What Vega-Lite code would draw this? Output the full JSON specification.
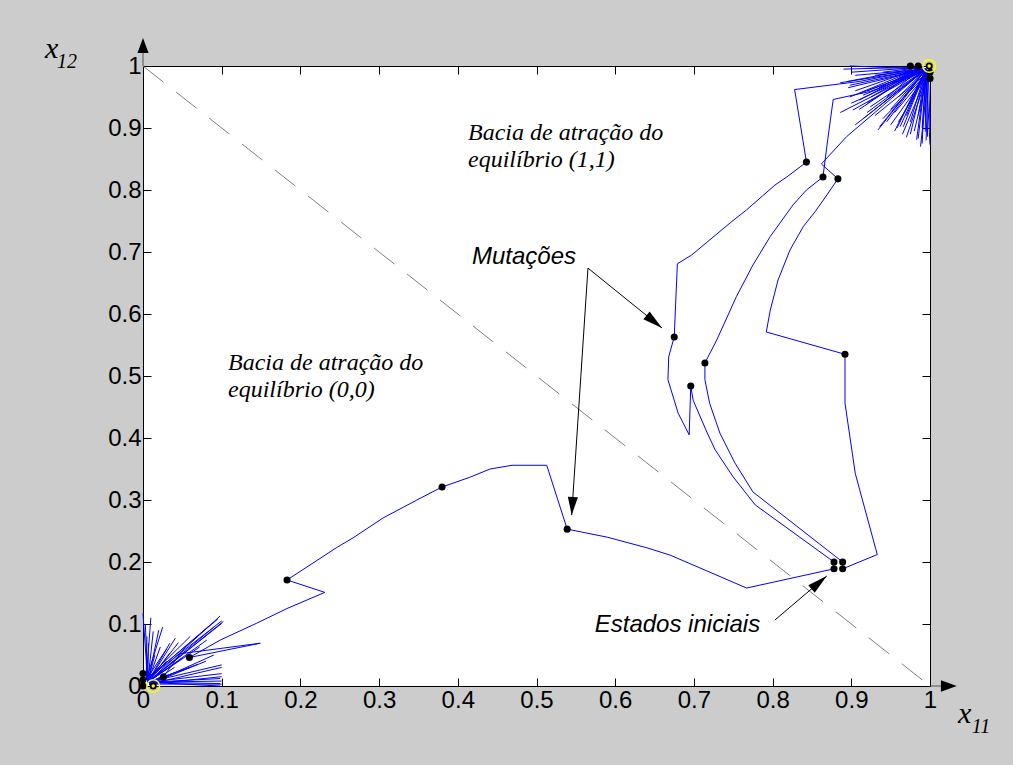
{
"$schema": "https://vega.github.io/schema/vega-lite/v6.json",
"width": 787, "height": 620,
"autosize": {"type": "none"},
"padding": {"left": 143, "top": 66, "right": 83, "bottom": 79},
"background": "#cccccc",
"config": {"view": {"fill": "white", "stroke": "black", "strokeWidth": 1}, "font": "Liberation Sans"},
"resolve": {"axis": {"x": "independent", "y": "independent"}},
"datasets": {
"paths": [
{"s":"B","o":1,"x":0.878,"y":0.189},{"s":"B","o":2,"x":0.767,"y":0.158},{"s":"B","o":3,"x":0.670,"y":0.211},{"s":"B","o":4,"x":0.640,"y":0.223},{"s":"B","o":5,"x":0.590,"y":0.240},{"s":"B","o":6,"x":0.539,"y":0.253},{"s":"B","o":7,"x":0.513,"y":0.356},{"s":"B","o":8,"x":0.469,"y":0.356},{"s":"B","o":9,"x":0.441,"y":0.350},{"s":"B","o":10,"x":0.416,"y":0.337},{"s":"B","o":11,"x":0.380,"y":0.321},{"s":"B","o":12,"x":0.348,"y":0.300},{"s":"B","o":13,"x":0.305,"y":0.271},{"s":"B","o":14,"x":0.267,"y":0.239},{"s":"B","o":15,"x":0.247,"y":0.224},{"s":"B","o":16,"x":0.183,"y":0.171},{"s":"B","o":17,"x":0.231,"y":0.151},{"s":"B","o":18,"x":0.183,"y":0.125},{"s":"B","o":19,"x":0.144,"y":0.101},{"s":"B","o":20,"x":0.098,"y":0.074},{"s":"B","o":21,"x":0.059,"y":0.046},{"s":"B","o":22,"x":0.149,"y":0.069},{"s":"B","o":23,"x":0.047,"y":0.052},{"s":"B","o":24,"x":0.026,"y":0.015},{"s":"B","o":25,"x":0.008,"y":0.006},
{"s":"A","o":1,"x":0.889,"y":0.189},{"s":"A","o":2,"x":0.933,"y":0.212},{"s":"A","o":3,"x":0.905,"y":0.343},{"s":"A","o":4,"x":0.892,"y":0.456},{"s":"A","o":5,"x":0.892,"y":0.535},{"s":"A","o":6,"x":0.792,"y":0.571},{"s":"A","o":7,"x":0.797,"y":0.606},{"s":"A","o":8,"x":0.807,"y":0.655},{"s":"A","o":9,"x":0.822,"y":0.703},{"s":"A","o":10,"x":0.839,"y":0.741},{"s":"A","o":11,"x":0.854,"y":0.765},{"s":"A","o":12,"x":0.869,"y":0.792},{"s":"A","o":13,"x":0.883,"y":0.818},{"s":"A","o":14,"x":0.862,"y":0.842},{"s":"A","o":15,"x":0.894,"y":0.886},{"s":"A","o":16,"x":0.99,"y":0.99},
{"s":"D","o":1,"x":0.889,"y":0.200},{"s":"D","o":2,"x":0.775,"y":0.313},{"s":"D","o":3,"x":0.752,"y":0.360},{"s":"D","o":4,"x":0.733,"y":0.408},{"s":"D","o":5,"x":0.720,"y":0.456},{"s":"D","o":6,"x":0.714,"y":0.494},{"s":"D","o":7,"x":0.714,"y":0.521},{"s":"D","o":8,"x":0.729,"y":0.558},{"s":"D","o":9,"x":0.754,"y":0.628},{"s":"D","o":10,"x":0.775,"y":0.679},{"s":"D","o":11,"x":0.797,"y":0.725},{"s":"D","o":12,"x":0.826,"y":0.776},{"s":"D","o":13,"x":0.843,"y":0.800},{"s":"D","o":14,"x":0.864,"y":0.821},{"s":"D","o":15,"x":0.870,"y":0.881},{"s":"D","o":16,"x":0.877,"y":0.946},{"s":"D","o":17,"x":0.924,"y":0.959},{"s":"D","o":18,"x":0.99,"y":0.99},
{"s":"C","o":1,"x":0.878,"y":0.200},{"s":"C","o":2,"x":0.778,"y":0.292},{"s":"C","o":3,"x":0.750,"y":0.337},{"s":"C","o":4,"x":0.727,"y":0.381},{"s":"C","o":5,"x":0.717,"y":0.408},{"s":"C","o":6,"x":0.699,"y":0.461},{"s":"C","o":7,"x":0.696,"y":0.484},{"s":"C","o":8,"x":0.694,"y":0.405},{"s":"C","o":9,"x":0.680,"y":0.440},{"s":"C","o":10,"x":0.667,"y":0.494},{"s":"C","o":11,"x":0.668,"y":0.531},{"s":"C","o":12,"x":0.675,"y":0.563},{"s":"C","o":13,"x":0.679,"y":0.681},{"s":"C","o":14,"x":0.697,"y":0.695},{"s":"C","o":15,"x":0.748,"y":0.749},{"s":"C","o":16,"x":0.767,"y":0.768},{"s":"C","o":17,"x":0.803,"y":0.808},{"s":"C","o":18,"x":0.818,"y":0.821},{"s":"C","o":19,"x":0.843,"y":0.845},{"s":"C","o":20,"x":0.828,"y":0.962},{"s":"C","o":21,"x":0.91,"y":0.975},{"s":"C","o":22,"x":0.99,"y":0.995}
],
"rays": [
{"r":"t1","o":0,"x":0.995,"y":0.995},{"r":"t1","o":1,"x":0.898,"y":1.0},
{"r":"t2","o":0,"x":0.995,"y":0.995},{"r":"t2","o":1,"x":0.886,"y":0.973},
{"r":"t3","o":0,"x":0.995,"y":0.995},{"r":"t3","o":1,"x":0.896,"y":0.965},
{"r":"t4","o":0,"x":0.995,"y":0.995},{"r":"t4","o":1,"x":0.911,"y":0.956},
{"r":"t5","o":0,"x":0.995,"y":0.995},{"r":"t5","o":1,"x":0.924,"y":0.934},
{"r":"t6","o":0,"x":0.995,"y":0.995},{"r":"t6","o":1,"x":0.886,"y":0.925},
{"r":"t7","o":0,"x":0.995,"y":0.995},{"r":"t7","o":1,"x":0.902,"y":0.929},
{"r":"t8","o":0,"x":0.995,"y":0.995},{"r":"t8","o":1,"x":0.905,"y":0.905},
{"r":"t9","o":0,"x":0.995,"y":0.995},{"r":"t9","o":1,"x":0.915,"y":0.915},
{"r":"t10","o":0,"x":0.995,"y":0.995},{"r":"t10","o":1,"x":0.934,"y":0.897},
{"r":"t11","o":0,"x":0.995,"y":0.995},{"r":"t11","o":1,"x":0.945,"y":0.91},
{"r":"t12","o":0,"x":0.995,"y":0.995},{"r":"t12","o":1,"x":0.958,"y":0.900},
{"r":"t13","o":0,"x":0.995,"y":0.995},{"r":"t13","o":1,"x":0.966,"y":0.902},
{"r":"t14","o":0,"x":0.995,"y":0.995},{"r":"t14","o":1,"x":0.975,"y":0.890},
{"r":"t15","o":0,"x":0.995,"y":0.995},{"r":"t15","o":1,"x":0.983,"y":0.881},
{"r":"t16","o":0,"x":0.995,"y":0.995},{"r":"t16","o":1,"x":0.997,"y":0.886},
{"r":"t17","o":0,"x":0.995,"y":0.995},{"r":"t17","o":1,"x":1.0,"y":0.873},
{"r":"t18","o":0,"x":0.995,"y":0.995},{"r":"t18","o":1,"x":0.99,"y":0.875},
{"r":"t19","o":0,"x":0.995,"y":0.995},{"r":"t19","o":1,"x":0.95,"y":0.93},
{"r":"t20","o":0,"x":0.995,"y":0.995},{"r":"t20","o":1,"x":0.92,"y":0.96},
{"r":"t21","o":0,"x":0.995,"y":0.995},{"r":"t21","o":1,"x":0.905,"y":0.985},
{"r":"t22","o":0,"x":0.995,"y":0.995},{"r":"t22","o":1,"x":0.93,"y":0.985},
{"r":"t23","o":0,"x":0.995,"y":0.995},{"r":"t23","o":1,"x":0.96,"y":0.95},
{"r":"t24","o":0,"x":0.995,"y":0.995},{"r":"t24","o":1,"x":0.97,"y":0.92},
{"r":"t25","o":0,"x":0.995,"y":0.995},{"r":"t25","o":1,"x":0.94,"y":0.94},
{"r":"t26","o":0,"x":0.995,"y":0.995},{"r":"t26","o":1,"x":0.985,"y":0.92},
{"r":"t27","o":0,"x":0.995,"y":0.995},{"r":"t27","o":1,"x":0.99,"y":0.90},
{"r":"t28","o":0,"x":0.995,"y":0.995},{"r":"t28","o":1,"x":0.936,"y":0.902},
{"r":"t29","o":0,"x":0.995,"y":0.995},{"r":"t29","o":1,"x":0.962,"y":0.902},
{"r":"t30","o":0,"x":0.995,"y":0.995},{"r":"t30","o":1,"x":0.975,"y":0.91},
{"r":"t31","o":0,"x":0.995,"y":0.995},{"r":"t31","o":1,"x":0.985,"y":0.883},
{"r":"t32","o":0,"x":0.995,"y":0.995},{"r":"t32","o":1,"x":0.994,"y":0.894},
{"r":"t33","o":0,"x":0.995,"y":0.995},{"r":"t33","o":1,"x":0.915,"y":0.953},
{"r":"t34","o":0,"x":0.995,"y":0.995},{"r":"t34","o":1,"x":0.898,"y":0.969},
{"r":"t35","o":0,"x":0.995,"y":0.995},{"r":"t35","o":1,"x":0.90,"y":0.94},
{"r":"t36","o":0,"x":0.995,"y":0.995},{"r":"t36","o":1,"x":0.92,"y":0.925},
{"r":"t37","o":0,"x":0.995,"y":0.995},{"r":"t37","o":1,"x":0.955,"y":0.895},
{"r":"t38","o":0,"x":0.99,"y":0.998},{"r":"t38","o":1,"x":0.89,"y":0.995},
{"r":"t39","o":0,"x":0.99,"y":0.998},{"r":"t39","o":1,"x":0.9,"y":0.99},
{"r":"t40","o":0,"x":0.99,"y":0.998},{"r":"t40","o":1,"x":0.895,"y":0.975},
{"r":"t41","o":0,"x":0.99,"y":0.998},{"r":"t41","o":1,"x":0.905,"y":0.96},
{"r":"t42","o":0,"x":0.99,"y":0.998},{"r":"t42","o":1,"x":0.91,"y":0.945},
{"r":"t43","o":0,"x":0.99,"y":0.998},{"r":"t43","o":1,"x":0.92,"y":0.94},
{"r":"t44","o":0,"x":0.998,"y":0.99},{"r":"t44","o":1,"x":0.93,"y":0.92},
{"r":"t45","o":0,"x":0.998,"y":0.99},{"r":"t45","o":1,"x":0.94,"y":0.915},
{"r":"t46","o":0,"x":0.998,"y":0.99},{"r":"t46","o":1,"x":0.95,"y":0.905},
{"r":"t47","o":0,"x":0.998,"y":0.99},{"r":"t47","o":1,"x":0.96,"y":0.91},
{"r":"t48","o":0,"x":0.998,"y":0.99},{"r":"t48","o":1,"x":0.965,"y":0.89},
{"r":"t49","o":0,"x":0.998,"y":0.99},{"r":"t49","o":1,"x":0.97,"y":0.885},
{"r":"t50","o":0,"x":0.998,"y":0.99},{"r":"t50","o":1,"x":0.98,"y":0.895},
{"r":"t51","o":0,"x":0.998,"y":0.99},{"r":"t51","o":1,"x":0.988,"y":0.87},
{"r":"t52","o":0,"x":0.998,"y":0.99},{"r":"t52","o":1,"x":0.995,"y":0.88},
{"r":"t53","o":0,"x":0.998,"y":0.99},{"r":"t53","o":1,"x":1.0,"y":0.9},
{"r":"t54","o":0,"x":0.99,"y":0.998},{"r":"t54","o":1,"x":0.925,"y":0.95},
{"r":"t55","o":0,"x":0.99,"y":0.998},{"r":"t55","o":1,"x":0.935,"y":0.965},
{"r":"t56","o":0,"x":0.99,"y":0.998},{"r":"t56","o":1,"x":0.945,"y":0.95},
{"r":"t57","o":0,"x":0.998,"y":0.99},{"r":"t57","o":1,"x":0.955,"y":0.925},
{"r":"t58","o":0,"x":0.99,"y":0.998},{"r":"t58","o":1,"x":0.91,"y":0.93},
{"r":"t59","o":0,"x":0.99,"y":0.998},{"r":"t59","o":1,"x":0.898,"y":0.95},
{"r":"t60","o":0,"x":0.99,"y":0.998},{"r":"t60","o":1,"x":0.94,"y":0.99},
{"r":"t61","o":0,"x":0.99,"y":0.998},{"r":"t61","o":1,"x":0.96,"y":0.98},
{"r":"b1","o":0,"x":0.006,"y":0.006},{"r":"b1","o":1,"x":0.0,"y":0.117},
{"r":"b2","o":0,"x":0.006,"y":0.006},{"r":"b2","o":1,"x":0.013,"y":0.088},
{"r":"b3","o":0,"x":0.006,"y":0.006},{"r":"b3","o":1,"x":0.007,"y":0.069},
{"r":"b4","o":0,"x":0.006,"y":0.006},{"r":"b4","o":1,"x":0.022,"y":0.063},
{"r":"b5","o":0,"x":0.006,"y":0.006},{"r":"b5","o":1,"x":0.034,"y":0.053},
{"r":"b6","o":0,"x":0.006,"y":0.006},{"r":"b6","o":1,"x":0.041,"y":0.077},
{"r":"b7","o":0,"x":0.006,"y":0.006},{"r":"b7","o":1,"x":0.098,"y":0.113},
{"r":"b8","o":0,"x":0.006,"y":0.006},{"r":"b8","o":1,"x":0.102,"y":0.104},
{"r":"b9","o":0,"x":0.006,"y":0.006},{"r":"b9","o":1,"x":0.1,"y":0.101},
{"r":"b10","o":0,"x":0.006,"y":0.006},{"r":"b10","o":1,"x":0.09,"y":0.095},
{"r":"b11","o":0,"x":0.006,"y":0.006},{"r":"b11","o":1,"x":0.081,"y":0.074},
{"r":"b12","o":0,"x":0.006,"y":0.006},{"r":"b12","o":1,"x":0.072,"y":0.063},
{"r":"b13","o":0,"x":0.006,"y":0.006},{"r":"b13","o":1,"x":0.1,"y":0.034},
{"r":"b14","o":0,"x":0.006,"y":0.006},{"r":"b14","o":1,"x":0.098,"y":0.012},
{"r":"b15","o":0,"x":0.006,"y":0.006},{"r":"b15","o":1,"x":0.098,"y":0.004},
{"r":"b16","o":0,"x":0.006,"y":0.006},{"r":"b16","o":1,"x":0.1,"y":0.008},
{"r":"b17","o":0,"x":0.006,"y":0.006},{"r":"b17","o":1,"x":0.06,"y":0.03},
{"r":"b18","o":0,"x":0.006,"y":0.006},{"r":"b18","o":1,"x":0.05,"y":0.045},
{"r":"b19","o":0,"x":0.006,"y":0.006},{"r":"b19","o":1,"x":0.02,"y":0.09},
{"r":"b20","o":0,"x":0.006,"y":0.006},{"r":"b20","o":1,"x":0.03,"y":0.04},
{"r":"b21","o":0,"x":0.006,"y":0.006},{"r":"b21","o":1,"x":0.1,"y":0.02},
{"r":"b22","o":0,"x":0.006,"y":0.006},{"r":"b22","o":1,"x":0.003,"y":0.1},
{"r":"b23","o":0,"x":0.006,"y":0.006},{"r":"b23","o":1,"x":0.045,"y":0.07},
{"r":"b24","o":0,"x":0.006,"y":0.006},{"r":"b24","o":1,"x":0.034,"y":0.069},
{"r":"b25","o":0,"x":0.006,"y":0.006},{"r":"b25","o":1,"x":0.015,"y":0.05},
{"r":"b26","o":0,"x":0.006,"y":0.006},{"r":"b26","o":1,"x":0.098,"y":0.0},
{"r":"b27","o":0,"x":0.006,"y":0.006},{"r":"b27","o":1,"x":0.07,"y":0.035},
{"r":"b28","o":0,"x":0.004,"y":0.01},{"r":"b28","o":1,"x":0.095,"y":0.108},
{"r":"b29","o":0,"x":0.004,"y":0.01},{"r":"b29","o":1,"x":0.1,"y":0.105},
{"r":"b30","o":0,"x":0.004,"y":0.01},{"r":"b30","o":1,"x":0.085,"y":0.098},
{"r":"b31","o":0,"x":0.004,"y":0.01},{"r":"b31","o":1,"x":0.06,"y":0.08},
{"r":"b32","o":0,"x":0.004,"y":0.01},{"r":"b32","o":1,"x":0.03,"y":0.06},
{"r":"b33","o":0,"x":0.004,"y":0.01},{"r":"b33","o":1,"x":0.01,"y":0.11},
{"r":"b34","o":0,"x":0.004,"y":0.01},{"r":"b34","o":1,"x":0.005,"y":0.08},
{"r":"b35","o":0,"x":0.008,"y":0.003},{"r":"b35","o":1,"x":0.1,"y":0.015},
{"r":"b36","o":0,"x":0.008,"y":0.003},{"r":"b36","o":1,"x":0.1,"y":0.003},
{"r":"b37","o":0,"x":0.008,"y":0.003},{"r":"b37","o":1,"x":0.08,"y":0.04},
{"r":"b38","o":0,"x":0.008,"y":0.003},{"r":"b38","o":1,"x":0.09,"y":0.05},
{"r":"b39","o":0,"x":0.004,"y":0.01},{"r":"b39","o":1,"x":0.025,"y":0.095},
{"r":"b40","o":0,"x":0.008,"y":0.003},{"r":"b40","o":1,"x":0.04,"y":0.03},
{"r":"b41","o":0,"x":0.008,"y":0.003},{"r":"b41","o":1,"x":0.1,"y":0.03}
],
"dots": [
{"x":0.878,"y":0.200},{"x":0.889,"y":0.200},{"x":0.878,"y":0.189},{"x":0.889,"y":0.189},
{"x":0.892,"y":0.535},{"x":0.696,"y":0.484},{"x":0.714,"y":0.521},{"x":0.675,"y":0.563},
{"x":0.843,"y":0.845},{"x":0.864,"y":0.821},{"x":0.883,"y":0.818},
{"x":0.539,"y":0.253},{"x":0.380,"y":0.321},{"x":0.183,"y":0.171},{"x":0.059,"y":0.046},{"x":0.026,"y":0.015},
{"x":0.0,"y":0.0},{"x":0.0,"y":0.01},{"x":0.0,"y":0.02},{"x":0.013,"y":0.0},
{"x":0.975,"y":1.0},{"x":0.985,"y":1.0},{"x":0.999,"y":1.0},{"x":1.0,"y":0.99},{"x":1.0,"y":0.98}
],
"eq": [{"x":0.013,"y":0.0},{"x":0.999,"y":1.0}]
},
"layer": [
{
"data": {"values": [{"x":0,"y":1},{"x":1,"y":0}]},
"mark": {"type":"line","color":"#808080","strokeWidth":1,"strokeDash":[26,16]},
"encoding": {
"x": {"field":"x","type":"quantitative","scale":{"domain":[0,1],"nice":false,"zero":false},
"axis":{"orient":"bottom","values":[0,0.1,0.2,0.3,0.4,0.5,0.6,0.7,0.8,0.9,1],"format":"~g","tickSize":-8,"tickColor":"black","domainColor":"black","labelColor":"black","labelFontSize":24,"labelFont":"Liberation Sans","labelPadding":10,"grid":false,"title":null,"labelFlush":false,"labelOverlap":false}},
"y": {"field":"y","type":"quantitative","scale":{"domain":[0,1],"nice":false,"zero":false},
"axis":{"orient":"left","values":[0,0.1,0.2,0.3,0.4,0.5,0.6,0.7,0.8,0.9,1],"format":"~g","tickSize":-8,"tickColor":"black","domainColor":"black","labelColor":"black","labelFontSize":24,"labelFont":"Liberation Sans","labelPadding":10,"grid":false,"title":null,"labelFlush":false,"labelOverlap":false}}
}
},
{
"data": {"name": "rays"},
"mark": {"type":"line","color":"#0000ff","strokeWidth":1},
"encoding": {
"x": {"field":"x","type":"quantitative","scale":{"domain":[0,1]},
"axis":{"orient":"top","values":[0,0.1,0.2,0.3,0.4,0.5,0.6,0.7,0.8,0.9,1],"tickSize":-8,"tickColor":"black","domainColor":"black","labels":false,"grid":false,"title":null}},
"y": {"field":"y","type":"quantitative","scale":{"domain":[0,1]},
"axis":{"orient":"right","values":[0,0.1,0.2,0.3,0.4,0.5,0.6,0.7,0.8,0.9,1],"tickSize":-8,"tickColor":"black","domainColor":"black","labels":false,"grid":false,"title":null}},
"detail": {"field":"r"},
"order": {"field":"o"}
}
},
{
"data": {"name": "paths"},
"mark": {"type":"line","color":"#0000ff","strokeWidth":1},
"encoding": {
"x": {"field":"x","type":"quantitative","scale":{"domain":[0,1]},"axis":null},
"y": {"field":"y","type":"quantitative","scale":{"domain":[0,1]},"axis":null},
"detail": {"field":"s"},
"order": {"field":"o"}
}
},
{
"data": {"name": "dots"},
"mark": {"type":"circle","color":"black","opacity":1,"size":50},
"encoding": {
"x": {"field":"x","type":"quantitative","scale":{"domain":[0,1]},"axis":null},
"y": {"field":"y","type":"quantitative","scale":{"domain":[0,1]},"axis":null}
}
},
{
"data": {"name": "eq"},
"mark": {"type":"circle","color":"#ffff00","opacity":1,"size":12},
"encoding": {
"x": {"field":"x","type":"quantitative","scale":{"domain":[0,1]},"axis":null},
"y": {"field":"y","type":"quantitative","scale":{"domain":[0,1]},"axis":null}
}
},
{
"data": {"name": "eq"},
"mark": {"type":"point","shape":"circle","filled":false,"color":"#ffff00","strokeWidth":1.5,"opacity":1,"size":160},
"encoding": {
"x": {"field":"x","type":"quantitative","scale":{"domain":[0,1]},"axis":null},
"y": {"field":"y","type":"quantitative","scale":{"domain":[0,1]},"axis":null}
}
},
{
"data": {"values": [{"x":0,"y":1,"x2":0,"y2":1.035},{"x":1,"y":0,"x2":1.025,"y2":0}]},
"mark": {"type":"rule","color":"#555555","strokeWidth":1},
"encoding": {
"x": {"field":"x","type":"quantitative","scale":{"domain":[0,1]},"axis":null},
"y": {"field":"y","type":"quantitative","scale":{"domain":[0,1]},"axis":null},
"x2": {"field":"x2"},
"y2": {"field":"y2"}
}
},
{
"data": {"values": [{"x":0.5654,"y":0.674,"x2":0.6595,"y2":0.5774},{"x":0.5654,"y":0.674,"x2":0.5447,"y2":0.2758},{"x":0.803,"y":0.1065,"x2":0.8688,"y2":0.1774}]},
"mark": {"type":"rule","color":"black","strokeWidth":1},
"encoding": {
"x": {"field":"x","type":"quantitative","scale":{"domain":[0,1]},"axis":null},
"y": {"field":"y","type":"quantitative","scale":{"domain":[0,1]},"axis":null},
"x2": {"field":"x2"},
"y2": {"field":"y2"}
}
},
{
"data": {"values": [{"x":0,"y":1.045}]},
"mark": {"type":"point","shape":"M0,0L-0.37,1L0.37,1Z","filled":true,"color":"black","opacity":1,"size":900,"angle":0},
"encoding": {
"x": {"field":"x","type":"quantitative","scale":{"domain":[0,1]},"axis":null},
"y": {"field":"y","type":"quantitative","scale":{"domain":[0,1]},"axis":null}
}
},
{
"data": {"values": [{"x":1.034,"y":0}]},
"mark": {"type":"point","shape":"M0,0L-0.37,1L0.37,1Z","filled":true,"color":"black","opacity":1,"size":1000,"angle":90},
"encoding": {
"x": {"field":"x","type":"quantitative","scale":{"domain":[0,1]},"axis":null},
"y": {"field":"y","type":"quantitative","scale":{"domain":[0,1]},"axis":null}
}
},
{
"data": {"values": [{"x":0.6595,"y":0.5774}]},
"mark": {"type":"point","shape":"M0,0L-0.25,1L0.25,1Z","filled":true,"color":"black","opacity":1,"size":1600,"angle":129},
"encoding": {
"x": {"field":"x","type":"quantitative","scale":{"domain":[0,1]},"axis":null},
"y": {"field":"y","type":"quantitative","scale":{"domain":[0,1]},"axis":null}
}
},
{
"data": {"values": [{"x":0.5447,"y":0.2758}]},
"mark": {"type":"point","shape":"M0,0L-0.28,1L0.28,1Z","filled":true,"color":"black","opacity":1,"size":1300,"angle":183.8},
"encoding": {
"x": {"field":"x","type":"quantitative","scale":{"domain":[0,1]},"axis":null},
"y": {"field":"y","type":"quantitative","scale":{"domain":[0,1]},"axis":null}
}
},
{
"data": {"values": [{"x":0.8688,"y":0.1774}]},
"mark": {"type":"point","shape":"M0,0L-0.25,1L0.25,1Z","filled":true,"color":"black","opacity":1,"size":1600,"angle":49.6},
"encoding": {
"x": {"field":"x","type":"quantitative","scale":{"domain":[0,1]},"axis":null},
"y": {"field":"y","type":"quantitative","scale":{"domain":[0,1]},"axis":null}
}
},
{
"data": {"values": [{"x":0.413,"y":0.8806,"t":"Bacia de atração do"},{"x":0.413,"y":0.837,"t":"equilíbrio (1,1)"},{"x":0.108,"y":0.5097,"t":"Bacia de atração do"},{"x":0.108,"y":0.466,"t":"equilíbrio (0,0)"}]},
"mark": {"type":"text","font":"Liberation Serif","fontStyle":"italic","fontSize":24,"align":"left","baseline":"alphabetic","color":"black"},
"encoding": {
"x": {"field":"x","type":"quantitative","scale":{"domain":[0,1]},"axis":null},
"y": {"field":"y","type":"quantitative","scale":{"domain":[0,1]},"axis":null},
"text": {"field":"t"}
}
},
{
"data": {"values": [{"x":0.418,"y":0.681,"t":"Mutações"},{"x":0.574,"y":0.087,"t":"Estados iniciais"}]},
"mark": {"type":"text","font":"Liberation Sans","fontStyle":"italic","fontSize":24,"align":"left","baseline":"alphabetic","color":"black"},
"encoding": {
"x": {"field":"x","type":"quantitative","scale":{"domain":[0,1]},"axis":null},
"y": {"field":"y","type":"quantitative","scale":{"domain":[0,1]},"axis":null},
"text": {"field":"t"}
}
},
{
"data": {"values": [{"x":-0.1245,"y":1.0129,"t":"x"},{"x":1.0356,"y":-0.0597,"t":"x"}]},
"mark": {"type":"text","font":"Liberation Serif","fontStyle":"italic","fontSize":30,"align":"left","baseline":"alphabetic","color":"black"},
"encoding": {
"x": {"field":"x","type":"quantitative","scale":{"domain":[0,1]},"axis":null},
"y": {"field":"y","type":"quantitative","scale":{"domain":[0,1]},"axis":null},
"text": {"field":"t"}
}
},
{
"data": {"values": [{"x":-0.1093,"y":0.9968,"t":"12"},{"x":1.053,"y":-0.0758,"t":"11"}]},
"mark": {"type":"text","font":"Liberation Serif","fontStyle":"italic","fontSize":20,"align":"left","baseline":"alphabetic","color":"black"},
"encoding": {
"x": {"field":"x","type":"quantitative","scale":{"domain":[0,1]},"axis":null},
"y": {"field":"y","type":"quantitative","scale":{"domain":[0,1]},"axis":null},
"text": {"field":"t"}
}
}
]
}
